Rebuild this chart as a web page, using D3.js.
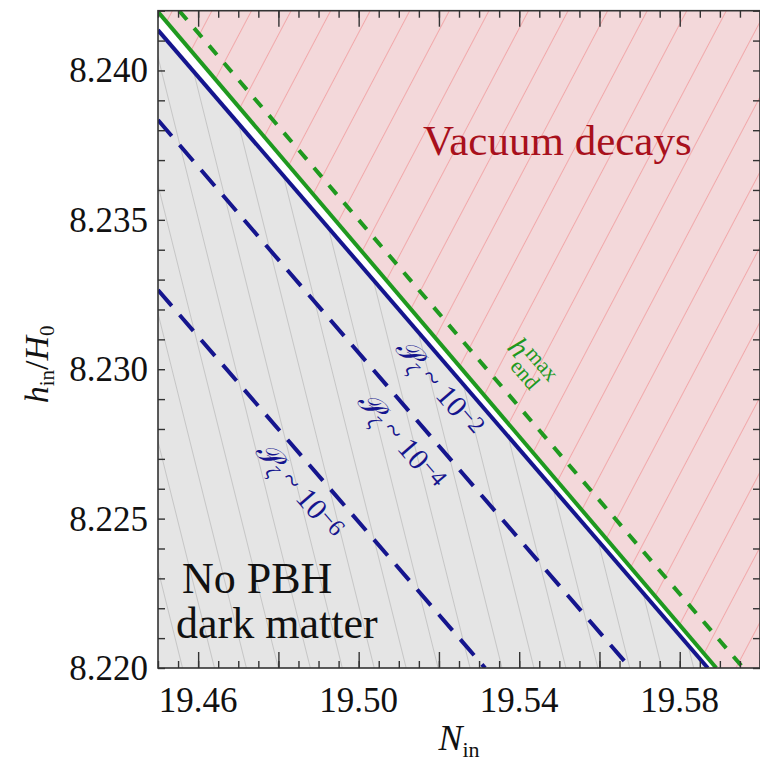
<!DOCTYPE html>
<html>
<head>
<meta charset="utf-8">
<script src="https://cdn.jsdelivr.net/npm/d3@7"></script>
<style>
  body { margin: 0; background: #fff; }
  svg { display: block; }
  text { font-family: "Liberation Serif", "DejaVu Serif", serif; }
</style>
</head>
<body>
<div id="graf"></div>
<script>
// Datos
const xEtiquetas = [19.46, 19.50, 19.54, 19.58]
const yEtiquetas = [8.220, 8.225, 8.230, 8.235, 8.240]
const xMayores   = [19.46, 19.48, 19.50, 19.52, 19.54, 19.56, 19.58, 19.60]
const xMenores   = d3.range(0, 31).map(i => 19.45 + i * 0.005)
const yMenores   = d3.range(0, 23).map(i => 8.220 + i * 0.001)

// curvas (extremos rectos) N_in -> h_in/H0
const N_p2 = [19.45, 19.5870],  h_p2 = [8.24135, 8.220]   // P_zeta ~ 1e-2 (sólida)
const N_p4 = [19.45, 19.5677],  h_p4 = [8.23834, 8.220]   // P_zeta ~ 1e-4
const N_p6 = [19.45, 19.5315],  h_p6 = [8.23265, 8.220]   // P_zeta ~ 1e-6
const N_hmax  = [19.45, 19.5891],    h_hmax  = [8.24196, 8.220]  // h_end^max
const N_hmaxD = [19.45526, 19.59584], h_hmaxD = [8.242, 8.220]    // verde a trazos

const exponentes = ['2', '4', '6']
const posEtiq = [[19.5203, 8.2294], [19.5108, 8.22763], [19.4854, 8.22596]]
const posHmax = [19.5428, 8.23007]

const ancho_total = 760, alto_total = 781
const margins = { top: 10.7, left: 158, right: 0, bottom: 113 }
const azul = '#15158e', verde = '#1f991f', rojo = '#a8101c'

const svg = d3.select('#graf').append('svg')
  .attr('width', ancho_total).attr('height', alto_total)

const x = d3.scaleLinear().domain([19.45, 19.60]).range([margins.left, ancho_total - margins.right])
const y = d3.scaleLinear().domain([8.220, 8.242]).range([alto_total - margins.bottom, margins.top])

const defs = svg.append('defs')
defs.append('clipPath').attr('id', 'clip').append('rect')
  .attr('x', x(19.45)).attr('y', y(8.242))
  .attr('width', x(19.60) - x(19.45)).attr('height', y(8.220) - y(8.242))

// rayado
function rayado(id, fondo, color, ang, paso) {
  const p = defs.append('pattern').attr('id', id)
    .attr('patternUnits', 'userSpaceOnUse')
    .attr('width', paso).attr('height', 40)
    .attr('patternTransform', `rotate(${ang})`)
  p.append('rect').attr('width', paso).attr('height', 40).attr('fill', fondo)
  p.append('line').attr('x1', paso / 2).attr('x2', paso / 2).attr('y1', 0).attr('y2', 40)
    .attr('stroke', color).attr('stroke-width', 1)
}
rayado('gris', '#e5e5e5', '#c6c6c6', -14, 31)
rayado('rosa', '#f3d8da', '#f1a9ab', 27.8, 35)

const g = svg.append('g').attr('clip-path', 'url(#clip)')
const pt = (N, h) => [x(N), y(h)]

// región gris (sin PBH) y región rosa (decaimiento)
g.append('path')
  .attr('d', d3.line()([pt(N_p2[0], h_p2[0]), pt(N_p2[1], h_p2[1]), pt(19.45, 8.220)]) + 'Z')
  .attr('fill', 'url(#gris)')
g.append('path')
  .attr('d', d3.line()([pt(N_hmax[0], h_hmax[0]), pt(N_hmax[1], h_hmax[1]),
                        pt(19.60, 8.220), pt(19.60, 8.242), pt(19.45, 8.242)]) + 'Z')
  .attr('fill', 'url(#rosa)')

const lineaGen = d3.line().x(d => x(d[0])).y(d => y(d[1]))
function curva(N, h, color, dash) {
  g.append('path')
    .attr('d', lineaGen(d3.zip(N, h)))
    .attr('fill', 'none').attr('stroke', color).attr('stroke-width', 4)
    .attr('stroke-dasharray', dash)
}
curva(N_p6, h_p6, azul, '21,12')
curva(N_p4, h_p4, azul, '21,12')
curva(N_p2, h_p2, azul, null)
curva(N_hmax, h_hmax, verde, null)
curva(N_hmaxD, h_hmaxD, verde, '12,11')

// ángulo de las rectas en pantalla
const ang = Math.atan2(y(h_p2[1]) - y(h_p2[0]), x(N_p2[1]) - x(N_p2[0])) * 180 / Math.PI

exponentes.forEach((e, i) => {
  const [cx, cy] = pt(posEtiq[i][0], posEtiq[i][1])
  const t = svg.append('text')
    .attr('transform', `translate(${cx},${cy}) rotate(${ang})`)
    .attr('text-anchor', 'middle').attr('dy', 10)
    .attr('fill', azul).style('font-size', '30px')
  t.append('tspan').style('font-style', 'italic').text('𝒫')
  t.append('tspan').attr('dy', 6).style('font-size', '20px').style('font-style', 'italic').text('ζ')
  t.append('tspan').attr('dy', -6).text(' ~ 10')
  t.append('tspan').attr('dy', -5).style('font-size', '24px').text('−' + e)
})

{
  const [cx, cy] = pt(posHmax[0], posHmax[1])
  const gh = svg.append('g').attr('transform', `translate(${cx},${cy}) rotate(${ang})`)
    .attr('fill', verde)
  gh.append('text').attr('x', -30).attr('y', 6).style('font-size', '30px').style('font-style', 'italic').text('h')
  gh.append('text').attr('x', -14).attr('y', -4).style('font-size', '22px').text('max')
  gh.append('text').attr('x', -14).attr('y', 16).style('font-size', '22px').text('end')
}

// textos de regiones
svg.append('text').attr('x', 423).attr('y', 155).attr('fill', rojo)
  .style('font-size', '43px').text('Vacuum decays')
svg.append('text').attr('x', 182).attr('y', 593).attr('fill', '#111')
  .style('font-size', '44px').text('No PBH')
svg.append('text').attr('x', 176).attr('y', 638).attr('fill', '#111')
  .style('font-size', '44px').text('dark matter')

// marco y ticks hacia dentro
function ejes(gen, tr, vals, size) {
  svg.append('g').attr('transform', tr)
    .call(gen.tickValues(vals).tickSize(size).tickFormat(''))
    .call(s => s.select('.domain').remove())
    .selectAll('line').attr('stroke', '#333').attr('stroke-width', 1.4)
}
const yb = y(8.220), yt = y(8.242), xl = x(19.45), xr = x(19.60)
ejes(d3.axisBottom(x), `translate(0,${yb})`, xMenores, -7)
ejes(d3.axisBottom(x), `translate(0,${yb})`, xMayores, -16)
ejes(d3.axisTop(x), `translate(0,${yt})`, xMenores, -7)
ejes(d3.axisTop(x), `translate(0,${yt})`, xMayores, -16)
ejes(d3.axisLeft(y), `translate(${xl},0)`, yMenores, -7)
ejes(d3.axisRight(y), `translate(${xr},0)`, yMenores, -7)

svg.append('rect').attr('x', xl).attr('y', yt).attr('width', xr - xl).attr('height', yb - yt)
  .attr('fill', 'none').attr('stroke', '#333').attr('stroke-width', 1.6)

// etiquetas
svg.append('g').selectAll('text').data(xEtiquetas).join('text')
  .attr('x', d => x(d)).attr('y', 712).attr('text-anchor', 'middle')
  .style('font-size', '35px').attr('fill', '#111').text(d => d.toFixed(2))
svg.append('g').selectAll('text').data(yEtiquetas).join('text')
  .attr('x', 148).attr('y', d => y(d) + 12).attr('text-anchor', 'end')
  .style('font-size', '35px').attr('fill', '#111').text(d => d.toFixed(3))

// títulos
const tx = svg.append('text').attr('x', (xl + xr) / 2).attr('y', 750)
  .attr('text-anchor', 'middle').style('font-size', '36px').attr('fill', '#111')
tx.append('tspan').style('font-style', 'italic').text('N')
tx.append('tspan').attr('dy', 7).style('font-size', '22px').text('in')

const ty = svg.append('text').attr('transform', `translate(48,${(yt + yb) / 2 + 25}) rotate(-90)`)
  .attr('text-anchor', 'middle').style('font-size', '34px').attr('fill', '#111')
ty.append('tspan').style('font-style', 'italic').text('h')
ty.append('tspan').attr('dy', 6).style('font-size', '21px').text('in')
ty.append('tspan').attr('dy', -6).text('/')
ty.append('tspan').style('font-style', 'italic').text('H')
ty.append('tspan').attr('dy', 6).style('font-size', '21px').text('0')
</script>
</body>
</html>
